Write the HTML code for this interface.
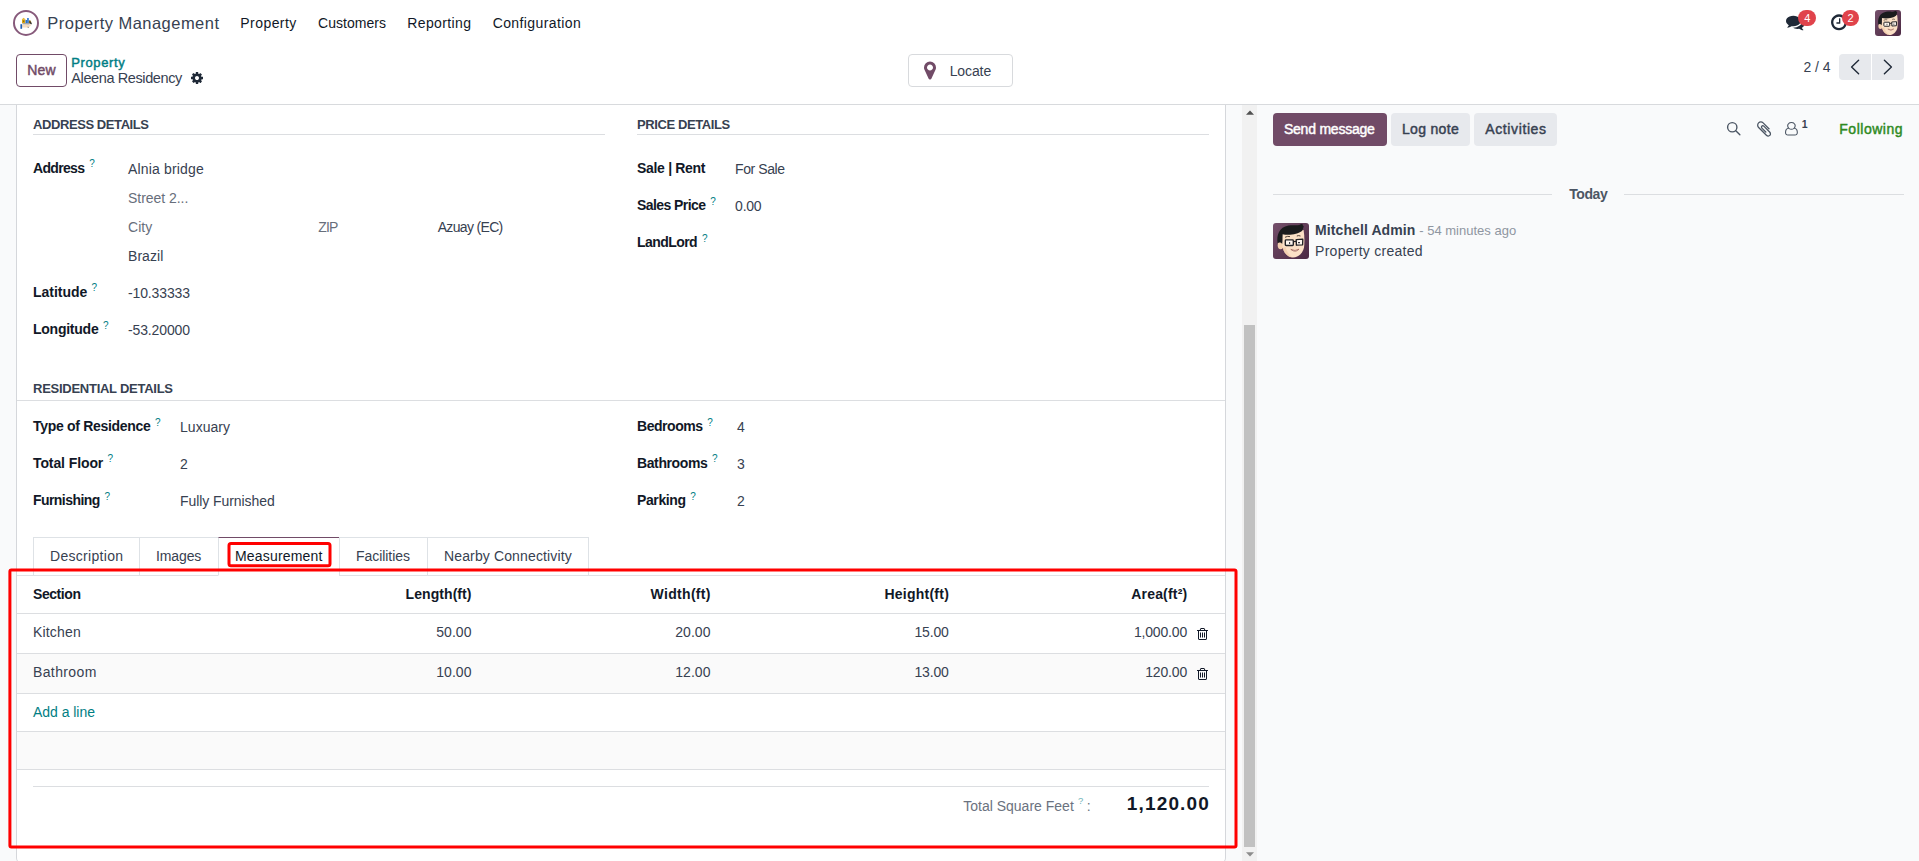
<!DOCTYPE html><html lang="en"><head><meta charset="utf-8"><title>Aleena Residency - Property Management</title><style>
*{box-sizing:border-box;margin:0;padding:0}
html,body{width:1919px;height:861px;overflow:hidden;background:#fff;font-family:"Liberation Sans", sans-serif;font-size:14px;color:#374151}
.abs,.t,.ic,.box{position:absolute}
.t{white-space:nowrap;line-height:20px;display:block}
.ic{display:block;overflow:visible}
.hr{position:absolute;height:1px;background:#dcdee1}
.vr{position:absolute;width:1px;background:#d8dadd}
.btn{position:absolute;border-radius:4px}
</style></head><body><header class="abs" style="left:0;top:0;width:1919px;height:46px;background:#fff"><svg class="ic" style="left:12px;top:9px;width:28px;height:28px" viewBox="12 9 28 28"><circle cx="26" cy="22.9" r="12" fill="#fff" stroke="#875A7B" stroke-width="2"/><rect x="22" y="19.3" width="3.3" height="3.9" fill="#d9a514"/><path d="M21.6 19.4 L23.6 17.7 L25.7 19.4Z" fill="#e8b830"/><rect x="23" y="20.6" width="1.2" height="1.2" fill="#7a5a08"/><rect x="25.5" y="20" width="1.6" height="3.2" fill="#2c6fc4"/><rect x="27.1" y="18" width="1.7" height="5.2" fill="#2f7bd6"/><path d="M28.8 23.2 L28.8 21 L30 20 L31.4 22.2 L31 23.6Z" fill="#7a5a10"/><path d="M30.4 21.6 L31.9 23.4 L31.2 24.4 L30 23.2Z" fill="#2a2a2a"/><path d="M22.2 23.2 H30.2 L29.4 24.5 H23.2Z" fill="#8d8f92"/><path d="M22 24.6 H26 Q28 25.4 30.6 24.3 Q31.4 24.4 31 25.2 L28.8 27.2 Q28.3 27.7 27.4 27.6 H22Z" fill="#f6dcc0"/><path d="M27.6 27.2 L28.8 27.4" stroke="#333" stroke-width=".6"/><rect x="20.4" y="24.2" width="1.7" height="4.6" fill="#1f5fb5"/></svg><span class="t" style="top:13.28px;font-size:16.5px;font-weight:400;color:#374151;letter-spacing:0.469px;left:47.30px;">Property Management</span><span class="t" style="top:13.15px;font-size:14px;font-weight:400;color:#111827;letter-spacing:0.440px;left:240.30px;">Property</span><span class="t" style="top:13.15px;font-size:14px;font-weight:400;color:#111827;letter-spacing:0.039px;left:318.00px;">Customers</span><span class="t" style="top:13.15px;font-size:14px;font-weight:400;color:#111827;letter-spacing:0.375px;left:407.30px;">Reporting</span><span class="t" style="top:13.15px;font-size:14px;font-weight:400;color:#111827;letter-spacing:0.393px;left:492.70px;">Configuration</span><svg class="ic" style="left:1785.50px;top:13.40px;width:18.67px;height:18.67px;" viewBox="0 -1536 1792 1792"><path fill="#1f2937" transform="scale(1,-1)" d="M1408 768q0 -139 -94 -257t-256.5 -186.5t-353.5 -68.5q-86 0 -176 16q-124 -88 -278 -128q-36 -9 -86 -16h-3q-11 0 -20.5 8t-11.5 21q-1 3 -1 6.5t0.5 6.5t2 6l2.5 5t3.5 5.5t4 5t4.5 5t4 4.5q5 6 23 25t26 29.5t22.5 29t25 38.5t20.5 44q-124 72 -195 177t-71 224 q0 139 94 257t256.5 186.5t353.5 68.5t353.5 -68.5t256.5 -186.5t94 -257zM1792 512q0 -120 -71 -224.5t-195 -176.5q10 -24 20.5 -44t25 -38.5t22.5 -29t26 -29.5t23 -25q1 -1 4 -4.5t4.5 -5t4 -5t3.5 -5.5l2.5 -5t2 -6t0.5 -6.5t-1 -6.5q-3 -14 -13 -22t-22 -7 q-50 7 -86 16q-154 40 -278 128q-90 -16 -176 -16q-271 0 -472 132q58 -4 88 -4q161 0 309 45t264 129q125 92 192 212t67 254q0 77 -23 152q129 -71 204 -178t75 -230z"/></svg><div class="abs" style="left:1798px;top:10px;width:18px;height:16px;border-radius:8px;background:#e0434b"></div><span class="t" style="top:8.39px;font-size:11px;font-weight:400;color:#fff;left:1804.20px;">4</span><svg class="ic" style="left:1831.00px;top:13.10px;width:16.00px;height:18.67px;" viewBox="0 -1536 1536 1792"><path fill="#1f2937" transform="scale(1,-1)" d="M896 992v-448q0 -14 -9 -23t-23 -9h-320q-14 0 -23 9t-9 23v64q0 14 9 23t23 9h224v352q0 14 9 23t23 9h64q14 0 23 -9t9 -23zM1312 640q0 148 -73 273t-198 198t-273 73t-273 -73t-198 -198t-73 -273t73 -273t198 -198t273 -73t273 73t198 198t73 273zM1536 640 q0 -209 -103 -385.5t-279.5 -279.5t-385.5 -103t-385.5 103t-279.5 279.5t-103 385.5t103 385.5t279.5 279.5t385.5 103t385.5 -103t279.5 -279.5t103 -385.5z"/></svg><div class="abs" style="left:1842px;top:10px;width:17px;height:16px;border-radius:8px;background:#e0434b"></div><span class="t" style="top:8.39px;font-size:11px;font-weight:400;color:#fff;left:1847.60px;">2</span><svg class="ic" style="left:1875px;top:10px;width:26px;height:26px" viewBox="0 0 36 36"><defs><linearGradient id="ag1875" x1="0" y1="0" x2="1" y2="1"><stop offset="0" stop-color="#75506b"/><stop offset="1" stop-color="#4b2842"/></linearGradient><clipPath id="ac1875"><rect width="36" height="36" rx="4.153846153846154"/></clipPath></defs><g clip-path="url(#ac1875)"><rect width="36" height="36" fill="url(#ag1875)"/><ellipse cx="7.6" cy="22.3" rx="2.9" ry="4" fill="#f3cfae"/><path d="M9.2 10 C9 15 9 21 9.8 25 C11 30.5 15.5 34.6 20.2 34.6 C25 34.6 30 30 31 24.5 C31.6 20 31.6 13 30.6 7 Z" fill="#fbe0c6"/><path d="M9.8 25 C11 30.5 15.5 34.6 20.2 34.6 C17 33 13.5 29 12.8 24 Z" fill="#f1c9a6" fill-opacity=".7"/><path d="M4.6 20.2 C3.4 12 6 4.2 15.5 2.5 C19.5 1.9 23.5 2.6 26.3 2 C27.3 1.2 28.4 .8 29.6 .9 C29.3 2 30 2.6 30.7 3 C30.3 5 29.8 6.8 29 8 C25 11.2 16 12.6 9.6 11.2 C9.5 14 9.6 17.5 9.2 21 C7.8 19.2 5.8 19.2 4.6 20.2 Z" fill="#1b1b1d"/><path d="M12 14.3 Q14.5 12.8 17 13.6 M23.8 13 Q25.5 12.2 27.5 13" stroke="#3a2a22" stroke-width=".9" fill="none"/><rect x="12.3" y="16.9" width="8" height="5.6" rx=".8" fill="#fff" fill-opacity=".7" stroke="#222226" stroke-width="1.35"/><path d="M23.2 16.6 L29.8 16.2 L29.6 21.8 L23.4 22.2 Z" fill="#fff" fill-opacity=".7" stroke="#222226" stroke-width="1.35" stroke-linejoin="round"/><path d="M20.3 18.6 L23.2 18.4" stroke="#222226" stroke-width="1.2"/><path d="M16.6 19 v2 M25 19.6 h2" stroke="#3a3a40" stroke-width="1.1"/><path d="M17.8 26.4 Q22 28.6 26 26.2 Q22.5 30.2 17.8 26.4Z" fill="#fff" stroke="#9a5a50" stroke-width=".7"/></g></svg></header>
<section class="cp"><div class="abs" style="left:0;top:46px;width:1919px;height:59px;background:#fff;border-bottom:1px solid #d8dadd"></div><div class="btn" style="left:16px;top:54px;width:51px;height:33px;border:1px solid #714B67;background:#fff"></div><span class="t" style="top:60.15px;font-size:14px;font-weight:400;color:#714B67;-webkit-text-stroke:.45px #714B67;letter-spacing:0.192px;left:27.30px;">New</span><span class="t" style="top:52.80px;font-size:13px;font-weight:400;color:#017e84;-webkit-text-stroke:.45px #017e84;letter-spacing:0.608px;left:71.30px;">Property</span><span class="t" style="top:67.68px;font-size:14.5px;font-weight:400;color:#374151;letter-spacing:-0.393px;left:71.30px;">Aleena Residency</span><svg class="ic" style="left:190.70px;top:71.30px;width:12.00px;height:14.00px;" viewBox="0 -1536 1536 1792"><path fill="#1f2937" transform="scale(1,-1)" d="M1024 640q0 106 -75 181t-181 75t-181 -75t-75 -181t75 -181t181 -75t181 75t75 181zM1536 749v-222q0 -12 -8 -23t-20 -13l-185 -28q-19 -54 -39 -91q35 -50 107 -138q10 -12 10 -25t-9 -23q-27 -37 -99 -108t-94 -71q-12 0 -26 9l-138 108q-44 -23 -91 -38 q-16 -136 -29 -186q-7 -28 -36 -28h-222q-14 0 -24.5 8.5t-11.5 21.5l-28 184q-49 16 -90 37l-141 -107q-10 -9 -25 -9q-14 0 -25 11q-126 114 -165 168q-7 10 -7 23q0 12 8 23q15 21 51 66.5t54 70.5q-27 50 -41 99l-183 27q-13 2 -21 12.5t-8 23.5v222q0 12 8 23t19 13 l186 28q14 46 39 92q-40 57 -107 138q-10 12 -10 24q0 10 9 23q26 36 98.5 107.5t94.5 71.5q13 0 26 -10l138 -107q44 23 91 38q16 136 29 186q7 28 36 28h222q14 0 24.5 -8.5t11.5 -21.5l28 -184q49 -16 90 -37l142 107q9 9 24 9q13 0 25 -10q129 -119 165 -170q7 -8 7 -22 q0 -12 -8 -23q-15 -21 -51 -66.5t-54 -70.5q26 -50 41 -98l183 -28q13 -2 21 -12.5t8 -23.5z"/></svg><div class="btn" style="left:908px;top:54px;width:105px;height:33px;border:1px solid #d8dadd;background:#fff"></div><svg class="ic" style="left:923.50px;top:60.30px;width:12.00px;height:21.00px;" viewBox="0 -1536 1024 1792"><path fill="#714B67" transform="scale(1,-1)" d="M768 896q0 106 -75 181t-181 75t-181 -75t-75 -181t75 -181t181 -75t181 75t75 181zM1024 896q0 -109 -33 -179l-364 -774q-16 -33 -47.5 -52t-67.5 -19t-67.5 19t-46.5 52l-365 774q-33 70 -33 179q0 212 150 362t362 150t362 -150t150 -362z"/></svg><span class="t" style="top:61.15px;font-size:14px;font-weight:400;color:#374151;letter-spacing:-0.109px;left:949.70px;">Locate</span><span class="t" style="top:57.15px;font-size:14px;font-weight:400;color:#374151;letter-spacing:-0.062px;left:1803.50px;">2 / 4</span><div class="abs" style="left:1839px;top:54px;width:32px;height:26px;background:#e7e9ed;border-radius:4px 0 0 4px"></div><div class="abs" style="left:1872px;top:54px;width:32px;height:26px;background:#e7e9ed;border-radius:0 4px 4px 0"></div><svg class="ic" style="left:1839px;top:54px;width:65px;height:26px" viewBox="0 0 65 26" fill="none" stroke="#1f2937" stroke-width="1.4" stroke-linecap="round" stroke-linejoin="round"><path d="M19.6 6.3 L12.6 13 L19.6 19.7"/><path d="M45.4 6.3 L52.4 13 L45.4 19.7"/></svg></section>
<div class="abs" style="left:0;top:105px;width:1919px;height:756px;background:#f9fafb"></div><main class="abs" style="left:16px;top:105px;width:1210px;height:758px;background:#fff;border:1px solid #d5d7db;border-top:0;border-radius:0 0 5px 5px"></main><div class="abs" style="left:1242px;top:105px;width:15px;height:756px;background:#f1f1f1"></div><div class="abs" style="left:1244px;top:325px;width:11px;height:522px;background:#c1c1c1"></div><svg class="ic" style="left:1245.6px;top:110.4px;width:8px;height:5px" viewBox="0 0 8 5"><path d="M0 4.7 L4 .4 L8 4.7Z" fill="#505050"/></svg><svg class="ic" style="left:1245.5px;top:851.5px;width:8px;height:5px" viewBox="0 0 8 5"><path d="M0 .3 L4 4.6 L8 .3Z" fill="#8c8c8c"/></svg>
<section class="form"><span class="t" style="top:114.50px;font-size:13px;font-weight:700;color:#374151;letter-spacing:-0.416px;left:33.00px;">ADDRESS DETAILS</span><div class="hr" style="left:33px;top:134px;width:571.5px"></div><span class="t" style="top:157.85px;font-size:14px;font-weight:700;color:#111827;letter-spacing:-0.672px;left:33.00px;">Address</span><span class="t" style="top:154.43px;font-size:10px;font-weight:400;color:#017e84;left:89.30px;">?</span><span class="t" style="top:159.15px;font-size:14px;font-weight:400;color:#374151;letter-spacing:0.160px;left:128.00px;">Alnia bridge</span><span class="t" style="top:187.85px;font-size:14px;font-weight:400;color:#676e7b;letter-spacing:-0.040px;left:128.00px;">Street 2...</span><span class="t" style="top:216.85px;font-size:14px;font-weight:400;color:#676e7b;letter-spacing:0.058px;left:128.00px;">City</span><span class="t" style="top:216.85px;font-size:14px;font-weight:400;color:#676e7b;letter-spacing:-0.891px;left:318.30px;">ZIP</span><span class="t" style="top:216.85px;font-size:14px;font-weight:400;color:#374151;letter-spacing:-0.664px;left:437.70px;">Azuay (EC)</span><span class="t" style="top:245.85px;font-size:14px;font-weight:400;color:#374151;letter-spacing:0.057px;left:128.00px;">Brazil</span><span class="t" style="top:281.85px;font-size:14px;font-weight:700;color:#111827;letter-spacing:-0.022px;left:33.00px;">Latitude</span><span class="t" style="top:278.44px;font-size:10px;font-weight:400;color:#017e84;left:91.60px;">?</span><span class="t" style="top:282.85px;font-size:14px;font-weight:400;color:#374151;letter-spacing:-0.133px;left:128.00px;">-10.33333</span><span class="t" style="top:319.15px;font-size:14px;font-weight:700;color:#111827;letter-spacing:-0.245px;left:33.00px;">Longitude</span><span class="t" style="top:315.74px;font-size:10px;font-weight:400;color:#017e84;left:103.00px;">?</span><span class="t" style="top:320.15px;font-size:14px;font-weight:400;color:#374151;letter-spacing:-0.133px;left:128.00px;">-53.20000</span><span class="t" style="top:114.50px;font-size:13px;font-weight:700;color:#374151;letter-spacing:-0.417px;left:637.10px;">PRICE DETAILS</span><div class="hr" style="left:637px;top:134px;width:571.7px"></div><span class="t" style="top:158.05px;font-size:14px;font-weight:700;color:#111827;letter-spacing:-0.311px;left:637.00px;">Sale | Rent</span><span class="t" style="top:159.15px;font-size:14px;font-weight:400;color:#374151;letter-spacing:-0.417px;left:735.10px;">For Sale</span><span class="t" style="top:195.15px;font-size:14px;font-weight:700;color:#111827;letter-spacing:-0.573px;left:637.00px;">Sales Price</span><span class="t" style="top:191.73px;font-size:10px;font-weight:400;color:#017e84;left:710.30px;">?</span><span class="t" style="top:196.15px;font-size:14px;font-weight:400;color:#374151;letter-spacing:-0.250px;left:735.10px;">0.00</span><span class="t" style="top:231.95px;font-size:14px;font-weight:700;color:#111827;letter-spacing:-0.564px;left:637.00px;">LandLord</span><span class="t" style="top:228.53px;font-size:10px;font-weight:400;color:#017e84;left:701.90px;">?</span><span class="t" style="top:378.80px;font-size:13px;font-weight:700;color:#374151;letter-spacing:-0.261px;left:33.00px;">RESIDENTIAL DETAILS</span><div class="hr" style="left:17px;top:400px;width:1208px"></div><span class="t" style="top:416.15px;font-size:14px;font-weight:700;color:#111827;letter-spacing:-0.311px;left:33.00px;">Type of Residence</span><span class="t" style="top:412.74px;font-size:10px;font-weight:400;color:#017e84;left:155.00px;">?</span><span class="t" style="top:417.45px;font-size:14px;font-weight:400;color:#374151;letter-spacing:0.031px;left:180.00px;">Luxuary</span><span class="t" style="top:452.85px;font-size:14px;font-weight:700;color:#111827;letter-spacing:-0.100px;left:33.00px;">Total Floor</span><span class="t" style="top:449.44px;font-size:10px;font-weight:400;color:#017e84;left:107.60px;">?</span><span class="t" style="top:454.15px;font-size:14px;font-weight:400;color:#374151;left:180.00px;">2</span><span class="t" style="top:490.15px;font-size:14px;font-weight:700;color:#111827;letter-spacing:-0.559px;left:33.00px;">Furnishing</span><span class="t" style="top:486.74px;font-size:10px;font-weight:400;color:#017e84;left:104.60px;">?</span><span class="t" style="top:490.75px;font-size:14px;font-weight:400;color:#374151;letter-spacing:-0.072px;left:180.00px;">Fully Furnished</span><span class="t" style="top:416.15px;font-size:14px;font-weight:700;color:#111827;letter-spacing:-0.462px;left:637.00px;">Bedrooms</span><span class="t" style="top:412.74px;font-size:10px;font-weight:400;color:#017e84;left:707.30px;">?</span><span class="t" style="top:417.45px;font-size:14px;font-weight:400;color:#374151;left:737.00px;">4</span><span class="t" style="top:452.85px;font-size:14px;font-weight:700;color:#111827;letter-spacing:-0.388px;left:637.00px;">Bathrooms</span><span class="t" style="top:449.44px;font-size:10px;font-weight:400;color:#017e84;left:712.10px;">?</span><span class="t" style="top:454.15px;font-size:14px;font-weight:400;color:#374151;left:737.00px;">3</span><span class="t" style="top:490.15px;font-size:14px;font-weight:700;color:#111827;letter-spacing:-0.393px;left:637.00px;">Parking</span><span class="t" style="top:486.74px;font-size:10px;font-weight:400;color:#017e84;left:690.30px;">?</span><span class="t" style="top:490.75px;font-size:14px;font-weight:400;color:#374151;left:737.00px;">2</span>
<div class="hr" style="left:17px;top:575px;width:1208px;background:#dee2e6"></div><div class="abs" style="left:33px;top:537px;width:107px;height:39px;border:1px solid #dee2e6"></div><div class="abs" style="left:139px;top:537px;width:80px;height:39px;border:1px solid #dee2e6"></div><div class="abs" style="left:218px;top:537px;width:122px;height:39px;background:#fff;border:1px solid #dee2e6;border-top-color:#714B67;border-bottom-color:#fff"></div><div class="abs" style="left:339px;top:537px;width:89px;height:39px;border:1px solid #dee2e6"></div><div class="abs" style="left:427px;top:537px;width:162px;height:39px;border:1px solid #dee2e6"></div><span class="t" style="top:546.15px;font-size:14px;font-weight:400;color:#374151;letter-spacing:0.297px;left:50.00px;">Description</span><span class="t" style="top:546.15px;font-size:14px;font-weight:400;color:#374151;letter-spacing:-0.124px;left:156.00px;">Images</span><span class="t" style="top:546.15px;font-size:14px;font-weight:400;color:#111827;letter-spacing:0.171px;left:235.00px;">Measurement</span><span class="t" style="top:546.15px;font-size:14px;font-weight:400;color:#374151;letter-spacing:-0.052px;left:356.00px;">Facilities</span><span class="t" style="top:546.15px;font-size:14px;font-weight:400;color:#374151;letter-spacing:0.134px;left:444.00px;">Nearby Connectivity</span>
<div class="abs" style="left:17px;top:654px;width:1208px;height:39px;background:#fafafa"></div><div class="abs" style="left:17px;top:732px;width:1208px;height:37px;background:#fafafa"></div><div class="hr" style="left:17px;top:613px;width:1208px"></div><div class="hr" style="left:17px;top:653px;width:1208px"></div><div class="hr" style="left:17px;top:693px;width:1208px"></div><div class="hr" style="left:17px;top:731px;width:1208px"></div><div class="hr" style="left:17px;top:769px;width:1208px"></div><span class="t" style="top:584.15px;font-size:14px;font-weight:700;color:#111827;letter-spacing:-0.430px;left:33.00px;">Section</span><span class="t" style="top:584.15px;font-size:14px;font-weight:700;color:#111827;letter-spacing:0.076px;right:1447.42px;">Length(ft)</span><span class="t" style="top:584.15px;font-size:14px;font-weight:700;color:#111827;letter-spacing:0.324px;right:1208.18px;">Width(ft)</span><span class="t" style="top:584.15px;font-size:14px;font-weight:700;color:#111827;letter-spacing:0.233px;right:969.97px;">Height(ft)</span><span class="t" style="top:584.15px;font-size:14px;font-weight:700;color:#111827;letter-spacing:0.193px;right:731.61px;">Area(ft&sup2;)</span><span class="t" style="top:621.85px;font-size:14px;font-weight:400;color:#374151;letter-spacing:0.166px;left:33.00px;">Kitchen</span><span class="t" style="top:621.85px;font-size:14px;font-weight:400;color:#374151;letter-spacing:0.063px;right:1447.44px;">50.00</span><span class="t" style="top:621.85px;font-size:14px;font-weight:400;color:#374151;letter-spacing:0.063px;right:1208.44px;">20.00</span><span class="t" style="top:621.85px;font-size:14px;font-weight:400;color:#374151;letter-spacing:-0.187px;right:970.39px;">15.00</span><span class="t" style="top:621.85px;font-size:14px;font-weight:400;color:#374151;letter-spacing:-0.171px;right:731.97px;">1,000.00</span><svg class="ic" style="left:1197.30px;top:627.40px;width:11.00px;height:14.00px;" viewBox="0 -1536 1408 1792"><path fill="#111827" transform="scale(1,-1)" d="M512 800v-576q0 -14 -9 -23t-23 -9h-64q-14 0 -23 9t-9 23v576q0 14 9 23t23 9h64q14 0 23 -9t9 -23zM768 800v-576q0 -14 -9 -23t-23 -9h-64q-14 0 -23 9t-9 23v576q0 14 9 23t23 9h64q14 0 23 -9t9 -23zM1024 800v-576q0 -14 -9 -23t-23 -9h-64q-14 0 -23 9t-9 23v576 q0 14 9 23t23 9h64q14 0 23 -9t9 -23zM1152 76v948h-896v-948q0 -22 7 -40.5t14.5 -27t10.5 -8.5h832q3 0 10.5 8.5t14.5 27t7 40.5zM480 1152h448l-48 117q-7 9 -17 11h-317q-10 -2 -17 -11zM1408 1120v-64q0 -14 -9 -23t-23 -9h-96v-948q0 -83 -47 -143.5t-113 -60.5h-832 q-66 0 -113 58.5t-47 141.5v952h-96q-14 0 -23 9t-9 23v64q0 14 9 23t23 9h309l70 167q15 37 54 63t79 26h320q40 0 79 -26t54 -63l70 -167h309q14 0 23 -9t9 -23z"/></svg><span class="t" style="top:661.85px;font-size:14px;font-weight:400;color:#374151;letter-spacing:0.371px;left:33.00px;">Bathroom</span><span class="t" style="top:661.85px;font-size:14px;font-weight:400;color:#374151;letter-spacing:0.063px;right:1447.44px;">10.00</span><span class="t" style="top:661.85px;font-size:14px;font-weight:400;color:#374151;letter-spacing:0.063px;right:1208.44px;">12.00</span><span class="t" style="top:661.85px;font-size:14px;font-weight:400;color:#374151;letter-spacing:-0.187px;right:970.39px;">13.00</span><span class="t" style="top:661.85px;font-size:14px;font-weight:400;color:#374151;letter-spacing:-0.166px;right:731.97px;">120.00</span><svg class="ic" style="left:1197.30px;top:667.40px;width:11.00px;height:14.00px;" viewBox="0 -1536 1408 1792"><path fill="#111827" transform="scale(1,-1)" d="M512 800v-576q0 -14 -9 -23t-23 -9h-64q-14 0 -23 9t-9 23v576q0 14 9 23t23 9h64q14 0 23 -9t9 -23zM768 800v-576q0 -14 -9 -23t-23 -9h-64q-14 0 -23 9t-9 23v576q0 14 9 23t23 9h64q14 0 23 -9t9 -23zM1024 800v-576q0 -14 -9 -23t-23 -9h-64q-14 0 -23 9t-9 23v576 q0 14 9 23t23 9h64q14 0 23 -9t9 -23zM1152 76v948h-896v-948q0 -22 7 -40.5t14.5 -27t10.5 -8.5h832q3 0 10.5 8.5t14.5 27t7 40.5zM480 1152h448l-48 117q-7 9 -17 11h-317q-10 -2 -17 -11zM1408 1120v-64q0 -14 -9 -23t-23 -9h-96v-948q0 -83 -47 -143.5t-113 -60.5h-832 q-66 0 -113 58.5t-47 141.5v952h-96q-14 0 -23 9t-9 23v64q0 14 9 23t23 9h309l70 167q15 37 54 63t79 26h320q40 0 79 -26t54 -63l70 -167h309q14 0 23 -9t9 -23z"/></svg><span class="t" style="top:701.85px;font-size:14px;font-weight:400;color:#017e84;letter-spacing:-0.031px;left:33.00px;">Add a line</span><div class="hr" style="left:33px;top:786px;width:1176px"></div><span class="t" style="top:795.75px;font-size:14px;font-weight:400;color:#6b7280;letter-spacing:0.005px;left:963.20px;">Total Square Feet</span><span class="t" style="top:791.31px;font-size:9.5px;font-weight:400;color:#6fb3b8;left:1078.00px;">?</span><span class="t" style="top:795.75px;font-size:14px;font-weight:400;color:#6b7280;left:1086.70px;">:</span><span class="t" style="top:794.42px;font-size:19px;font-weight:700;color:#111827;letter-spacing:1.147px;right:709.05px;">1,120.00</span></section>
<aside class="chatter"><div class="btn" style="left:1273px;top:113px;width:114px;height:33px;background:#714B67"></div><span class="t" style="top:118.55px;font-size:14px;font-weight:400;color:#fff;-webkit-text-stroke:.45px #fff;letter-spacing:-0.219px;left:1283.90px;">Send message</span><div class="btn" style="left:1391px;top:113px;width:79px;height:33px;background:#e7e9ed"></div><span class="t" style="top:118.55px;font-size:14px;font-weight:400;color:#374151;-webkit-text-stroke:.45px #374151;letter-spacing:0.314px;left:1402.00px;">Log note</span><div class="btn" style="left:1474px;top:113px;width:83px;height:33px;background:#e7e9ed"></div><span class="t" style="top:118.55px;font-size:14px;font-weight:400;color:#374151;-webkit-text-stroke:.45px #374151;letter-spacing:0.607px;left:1485.30px;">Activities</span><svg class="ic" style="left:1726.2px;top:121.2px;width:15.2px;height:15.2px" viewBox="0 0 16 16" fill="none" stroke="#4b5563" stroke-width="1.45" stroke-linecap="round"><circle cx="6.6" cy="6.6" r="4.9"/><path d="M10.3 10.3 L14.6 14.6"/></svg><svg class="ic" style="left:1757.00px;top:119.80px;width:14.14px;height:18.00px;" viewBox="0 -1536 1408 1792"><path fill="#4b5563" transform="scale(1,-1)" d="M1404 151q0 -117 -79 -196t-196 -79q-135 0 -235 100l-777 776q-113 115 -113 271q0 159 110 270t269 111q158 0 273 -113l605 -606q10 -10 10 -22q0 -16 -30.5 -46.5t-46.5 -30.5q-13 0 -23 10l-606 607q-79 77 -181 77q-106 0 -179 -75t-73 -181q0 -105 76 -181 l776 -777q63 -63 145 -63q64 0 106 42t42 106q0 82 -63 145l-581 581q-26 24 -60 24q-29 0 -48 -19t-19 -48q0 -32 25 -59l410 -410q10 -10 10 -22q0 -16 -31 -47t-47 -31q-12 0 -22 10l-410 410q-63 61 -63 149q0 82 57 139t139 57q88 0 149 -63l581 -581q100 -98 100 -235 z"/></svg><svg class="ic" style="left:1785.00px;top:122.20px;width:12.86px;height:15.00px;transform:scaleY(.9);transform-origin:0 0;" viewBox="0 -1536 1536 1792"><path fill="#4b5563" transform="scale(1,-1)" d="M1201 752q47 -14 89.5 -38t89 -73t79.5 -115.5t55 -172t22 -236.5q0 -154 -100 -263.5t-241 -109.5h-854q-141 0 -241 109.5t-100 263.5q0 131 22 236.5t55 172t79.5 115.5t89 73t89.5 38q-79 125 -79 272q0 104 40.5 198.5t109.5 163.5t163.5 109.5t198.5 40.5 t198.5 -40.5t163.5 -109.5t109.5 -163.5t40.5 -198.5q0 -147 -79 -272zM768 1408q-159 0 -271.5 -112.5t-112.5 -271.5t112.5 -271.5t271.5 -112.5t271.5 112.5t112.5 271.5t-112.5 271.5t-271.5 112.5zM1195 -128q88 0 150.5 71.5t62.5 173.5q0 239 -78.5 377t-225.5 145 q-145 -127 -336 -127t-336 127q-147 -7 -225.5 -145t-78.5 -377q0 -102 62.5 -173.5t150.5 -71.5h854z"/></svg><span class="t" style="top:114.36px;font-size:10.5px;font-weight:700;color:#374151;left:1801.80px;">1</span><span class="t" style="top:118.55px;font-size:14px;font-weight:400;color:#2f8a1f;-webkit-text-stroke:.45px #2f8a1f;letter-spacing:0.507px;left:1839.30px;">Following</span><div class="hr" style="left:1273px;top:194px;width:279px"></div><div class="hr" style="left:1624px;top:194px;width:280px"></div><span class="t" style="top:183.85px;font-size:14px;font-weight:700;color:#4b5563;letter-spacing:-0.451px;left:1569.30px;">Today</span><svg class="ic" style="left:1273px;top:223px;width:36px;height:36px" viewBox="0 0 36 36"><defs><linearGradient id="ag1273" x1="0" y1="0" x2="1" y2="1"><stop offset="0" stop-color="#75506b"/><stop offset="1" stop-color="#4b2842"/></linearGradient><clipPath id="ac1273"><rect width="36" height="36" rx="3.0"/></clipPath></defs><g clip-path="url(#ac1273)"><rect width="36" height="36" fill="url(#ag1273)"/><ellipse cx="7.6" cy="22.3" rx="2.9" ry="4" fill="#f3cfae"/><path d="M9.2 10 C9 15 9 21 9.8 25 C11 30.5 15.5 34.6 20.2 34.6 C25 34.6 30 30 31 24.5 C31.6 20 31.6 13 30.6 7 Z" fill="#fbe0c6"/><path d="M9.8 25 C11 30.5 15.5 34.6 20.2 34.6 C17 33 13.5 29 12.8 24 Z" fill="#f1c9a6" fill-opacity=".7"/><path d="M4.6 20.2 C3.4 12 6 4.2 15.5 2.5 C19.5 1.9 23.5 2.6 26.3 2 C27.3 1.2 28.4 .8 29.6 .9 C29.3 2 30 2.6 30.7 3 C30.3 5 29.8 6.8 29 8 C25 11.2 16 12.6 9.6 11.2 C9.5 14 9.6 17.5 9.2 21 C7.8 19.2 5.8 19.2 4.6 20.2 Z" fill="#1b1b1d"/><path d="M12 14.3 Q14.5 12.8 17 13.6 M23.8 13 Q25.5 12.2 27.5 13" stroke="#3a2a22" stroke-width=".9" fill="none"/><rect x="12.3" y="16.9" width="8" height="5.6" rx=".8" fill="#fff" fill-opacity=".7" stroke="#222226" stroke-width="1.35"/><path d="M23.2 16.6 L29.8 16.2 L29.6 21.8 L23.4 22.2 Z" fill="#fff" fill-opacity=".7" stroke="#222226" stroke-width="1.35" stroke-linejoin="round"/><path d="M20.3 18.6 L23.2 18.4" stroke="#222226" stroke-width="1.2"/><path d="M16.6 19 v2 M25 19.6 h2" stroke="#3a3a40" stroke-width="1.1"/><path d="M17.8 26.4 Q22 28.6 26 26.2 Q22.5 30.2 17.8 26.4Z" fill="#fff" stroke="#9a5a50" stroke-width=".7"/></g></svg><span class="t" style="top:219.75px;font-size:14px;font-weight:700;color:#374151;letter-spacing:0.089px;left:1315.10px;">Mitchell Admin</span><span class="t" style="top:220.90px;font-size:13px;font-weight:400;color:#8f96a1;letter-spacing:0.010px;left:1419.20px;">- 54 minutes ago</span><span class="t" style="top:241.35px;font-size:14px;font-weight:400;color:#374151;letter-spacing:0.260px;left:1315.10px;">Property created</span></aside>
<svg class="ic" style="left:0;top:530px;width:1260px;height:331px;pointer-events:none" viewBox="0 530 1260 331" fill="none" stroke="#ff0000" stroke-width="3"><rect x="229" y="543.5" width="101" height="22.2" rx="2"/><rect x="9.9" y="569.95" width="1226.1" height="277" rx="1.5"/></svg></body></html>
